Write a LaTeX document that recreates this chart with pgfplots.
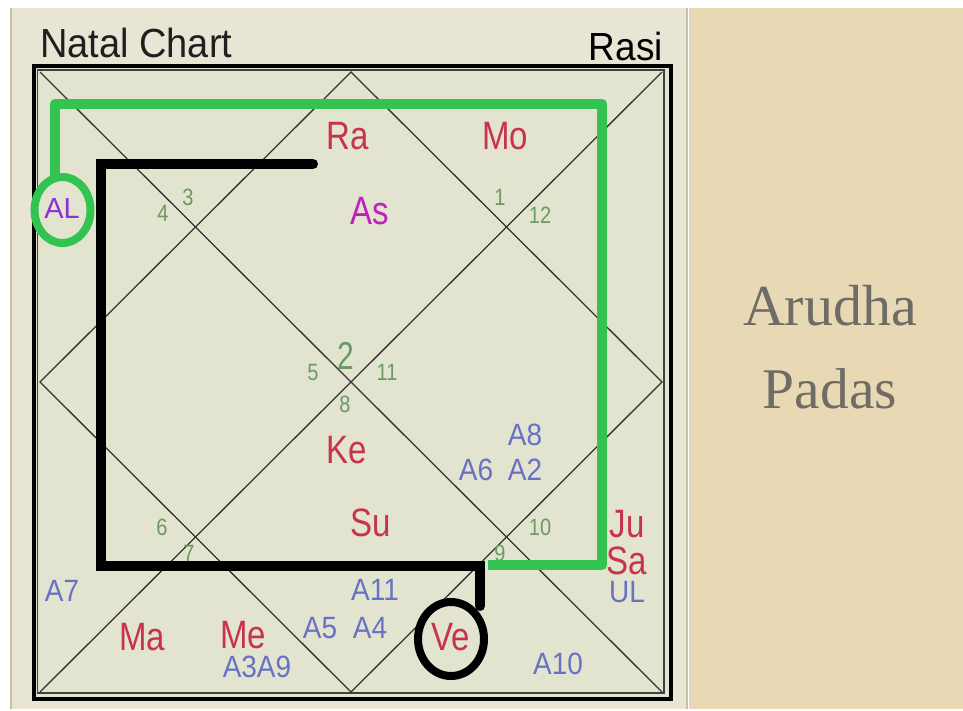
\documentclass[border=0pt]{standalone}
\usepackage{pgfplots}
\pgfplotsset{compat=1.18}
\usepackage{fontspec}
\setmainfont{Liberation Sans}
\newfontfamily\seriffont{Liberation Serif}

\definecolor{panel}{HTML}{E9E5D4}
\definecolor{chartbg}{HTML}{E3E4D0}
\definecolor{tan}{HTML}{E9D8B4}
\definecolor{sepline}{HTML}{C4C0AC}
\definecolor{planetc}{HTML}{C8324E}
\definecolor{ascc}{HTML}{C020C0}
\definecolor{arudc}{HTML}{6872C4}
\definecolor{alc}{HTML}{8C32D2}
\definecolor{numc}{HTML}{6A9A62}
\definecolor{grn}{HTML}{33C350}
\definecolor{titlec}{HTML}{6E6C64}

\tikzset{
  planet/.style={text=planetc, inner sep=0pt, font={\fontsize{33}{33}\selectfont}, yscale=1.2},
  arud/.style={text=arudc, inner sep=0pt, font={\fontsize{28}{28}\selectfont}, yscale=1.1},
  hnum/.style={text=numc, inner sep=0pt, font={\fontsize{20}{20}\selectfont}, yscale=1.18},
}

\begin{document}
\begin{tikzpicture}
\begin{axis}[
  width=963pt, height=709pt, scale only axis,
  xmin=0, xmax=963, ymin=0, ymax=709, y dir=reverse,
  hide axis, clip=false,
]
% backgrounds
\addplot[fill=white, draw=none] coordinates {(0,0) (963,0) (963,709) (0,709)} -- cycle;
\addplot[fill=panel, draw=none] coordinates {(11,8) (688,8) (688,709) (11,709)} -- cycle;
\addplot[fill=tan, draw=none] coordinates {(689,8) (963,8) (963,709) (689,709)} -- cycle;
\addplot[sepline, line width=1.5pt] coordinates {(11,8) (11,709)};
\addplot[sepline, line width=2pt] coordinates {(687,8) (687,709)};

% chart frame
\addplot[fill=chartbg, draw=none] coordinates {(33,65) (671,65) (671,700) (33,700)} -- cycle;
\addplot[black, line width=4pt] coordinates {(33.5,65.5) (670.5,65.5) (670.5,699) (33.5,699)} -- cycle;
\addplot[black!75, line width=1.5pt] coordinates {(37.5,70) (664,70) (664,693) (37.5,693)} -- cycle;

% diagonals and diamond
\addplot[black!80, line width=1.3pt] coordinates {(40,72) (662,692)};
\addplot[black!80, line width=1.3pt] coordinates {(662,72) (40,692)};
\addplot[black!80, line width=1.3pt] coordinates {(351,72) (40,382) (351,692) (662,382)} -- cycle;

% house numbers
\node[hnum] at (axis cs:188,197) {3};
\node[hnum] at (axis cs:163,213) {4};
\node[hnum] at (axis cs:500,197) {1};
\node[hnum] at (axis cs:540,215) {12};
\node[hnum] at (axis cs:313,372) {5};
\node[hnum] at (axis cs:387,372) {11};
\node[hnum] at (axis cs:345,404) {8};
\node[hnum] at (axis cs:162,527) {6};
\node[hnum] at (axis cs:189,553) {7};
\node[hnum] at (axis cs:500,553) {9};
\node[hnum] at (axis cs:540,527) {10};
\node[text=numc, inner sep=0pt, font={\fontsize{30}{30}\selectfont}, yscale=1.3] at (axis cs:346,356) {2};

% planets
\node[planet] at (axis cs:348,136) {Ra};
\node[planet] at (axis cs:505,136) {Mo};
\node[planet, text=ascc] at (axis cs:370,211) {As};
\node[planet] at (axis cs:347,450) {Ke};
\node[planet] at (axis cs:371,523) {Su};
\node[planet] at (axis cs:627,524) {Ju};
\node[planet] at (axis cs:627,561) {Sa};
\node[planet] at (axis cs:142,637) {Ma};
\node[planet] at (axis cs:243,635) {Me};

% arudha padas
\node[arud] at (axis cs:525,435) {A8};
\node[arud] at (axis cs:476,470) {A6};
\node[arud] at (axis cs:525,470) {A2};
\node[arud] at (axis cs:375,590) {A11};
\node[arud] at (axis cs:320,628) {A5};
\node[arud] at (axis cs:370,628) {A4};
\node[arud] at (axis cs:62,591) {A7};
\node[arud] at (axis cs:627,592) {UL};
\node[arud] at (axis cs:257,667) {A3A9};
\node[arud] at (axis cs:558,664) {A10};

% green path
\addplot[grn, line width=10pt, line join=round] coordinates {(55,180) (55,104) (602,104) (602,565) (488,565)};
\draw[grn, line width=8pt] (axis cs:62.5,210) ellipse [x radius=28, y radius=33];
\node[text=alc, inner sep=0pt, font={\fontsize{29}{29}\selectfont}] at (axis cs:62,209) {AL};

% black path
\addplot[black, line width=10pt, line cap=round, line join=miter] coordinates {(313,164) (101,164) (101,566) (480,566) (480,606)};
\draw[black, line width=8pt] (axis cs:451,639) ellipse [x radius=33, y radius=37];
\node[planet] at (axis cs:451,637) {Ve};

% titles
\node[anchor=base west, inner sep=0pt, text=black!88, font={\fontsize{38}{38}\selectfont}, yscale=1.07] at (axis cs:40,57) {Natal Chart};
\node[anchor=base east, inner sep=0pt, text=black, font={\fontsize{37}{37}\selectfont}, yscale=1.06] at (axis cs:663,60) {Rasi};
\node[anchor=base, inner sep=0pt, text=titlec, font={\seriffont\fontsize{58}{58}\selectfont}] at (axis cs:830,325) {Arudha};
\node[anchor=base, inner sep=0pt, text=titlec, font={\seriffont\fontsize{57.5}{57.5}\selectfont}] at (axis cs:830,408) {Padas};
\end{axis}
\end{tikzpicture}
\end{document}
